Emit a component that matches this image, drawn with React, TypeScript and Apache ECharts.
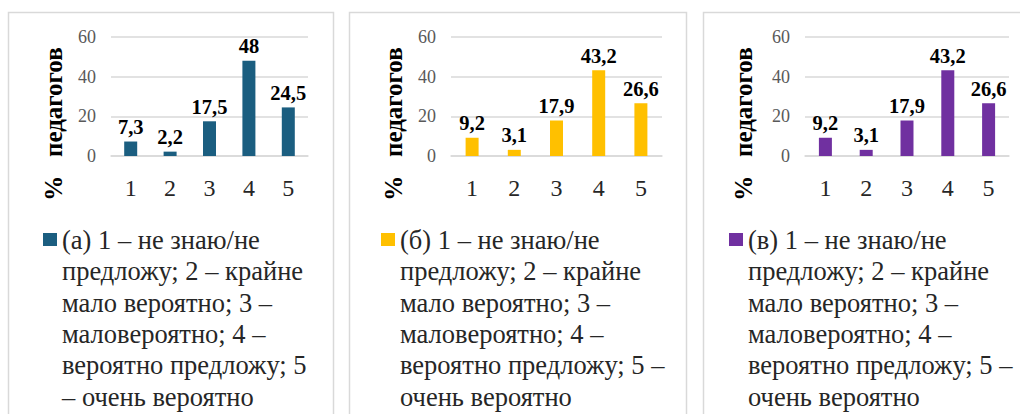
import React, { useEffect, useRef } from "react";
import * as echarts from "echarts";

const categories = ["1", "2", "3", "4", "5"];
const valuesA = [7.3, 2.2, 17.5, 48, 24.5];
const valuesB = [9.2, 3.1, 17.9, 43.2, 26.6];
const valuesC = [9.2, 3.1, 17.9, 43.2, 26.6];
const yTicks = { min: 0, max: 60, interval: 20 };
const axisTitle = "%   педагогов";
const legendA = [
  "(а) 1 – не знаю/не",
  "предложу; 2 – крайне",
  "мало вероятно; 3 –",
  "маловероятно; 4 –",
  "вероятно предложу; 5",
  "– очень вероятно",
];
const legendB = [
  "(б) 1 – не знаю/не",
  "предложу; 2 – крайне",
  "мало вероятно; 3 –",
  "маловероятно; 4 –",
  "вероятно предложу; 5 –",
  "очень вероятно",
];
const legendC = [
  "(в) 1 – не знаю/не",
  "предложу; 2 – крайне",
  "мало вероятно; 3 –",
  "маловероятно; 4 –",
  "вероятно предложу; 5 –",
  "очень вероятно",
];

const FONT = "Liberation Serif";
const colors = ["#1B5E80", "#FFC000", "#7030A0"];

const panels = [
  { gridLeft: 111, gridWidth: 197, titleX: 53, legendX: 43, border: [8.5, 325], values: valuesA, legend: legendA },
  { gridLeft: 451, gridWidth: 211, titleX: 393, legendX: 381, border: [349.5, 337], values: valuesB, legend: legendB },
  { gridLeft: 805, gridWidth: 204, titleX: 743, legendX: 729, border: [703.5, 340], values: valuesC, legend: legendC },
];

export default function App() {
  const ref = useRef<HTMLDivElement>(null);
  useEffect(() => {
    if (!ref.current) return;
    const chart = echarts.init(ref.current, null, { renderer: "svg" });
    const graphics: any[] = [];
    panels.forEach((p, i) => {
      graphics.push({
        type: "rect",
        shape: { x: p.border[0], y: 12.5, width: p.border[1], height: 430 },
        style: { fill: "#fff", stroke: "#D9D9D9", lineWidth: 1.5 },
        z: -10,
      });
      graphics.push({
        type: "text",
        x: p.titleX,
        y: 124,
        rotation: Math.PI / 2,
        style: {
          text: axisTitle,
          fontFamily: FONT,
          fontSize: 25,
          fontWeight: "bold",
          fill: "#000",
          align: "center",
          verticalAlign: "middle",
        },
      });
      graphics.push({
        type: "rect",
        shape: { x: p.legendX, y: 233, width: 14, height: 13 },
        style: { fill: colors[i] },
      });
      graphics.push({
        type: "text",
        x: p.legendX + 19,
        y: 224,
        style: {
          text: p.legend.join("\n"),
          fontFamily: FONT,
          fontSize: 26.5,
          lineHeight: 31.4,
          fill: "#262626",
          align: "left",
          verticalAlign: "top",
        },
      });
    });
    chart.setOption({
      animation: false,
      backgroundColor: "#fff",
      textStyle: { fontFamily: FONT },
      grid: panels.map((p) => ({ left: p.gridLeft, width: p.gridWidth, top: 37, height: 119 })),
      xAxis: panels.map((p, i) => ({
        type: "category",
        gridIndex: i,
        data: categories,
        axisLine: { lineStyle: { color: "#D9D9D9", width: 1.5 } },
        axisTick: { length: 8, lineStyle: { color: "#D9D9D9", width: 1.5 } },
        axisLabel: { fontFamily: FONT, fontSize: 24, color: "#262626", margin: 20 },
      })),
      yAxis: panels.map((p, i) => ({
        type: "value",
        gridIndex: i,
        min: yTicks.min,
        max: yTicks.max,
        interval: yTicks.interval,
        axisLine: { show: false },
        axisTick: { show: false },
        splitLine: { lineStyle: { color: "#D9D9D9", width: 1.5 } },
        axisLabel: { fontFamily: FONT, fontSize: 18, color: "#595959", margin: 15 },
      })),
      series: panels.map((p, i) => ({
        type: "bar",
        xAxisIndex: i,
        yAxisIndex: i,
        data: p.values,
        barWidth: 13,
        itemStyle: { color: colors[i] },
        label: {
          show: true,
          position: "top",
          distance: 4,
          fontFamily: FONT,
          fontWeight: "bold",
          fontSize: 20.5,
          color: "#000",
          formatter: (d: any) => String(d.value).replace(".", ","),
        },
      })),
      graphic: graphics,
    });
    return () => chart.dispose();
  }, []);
  return <div ref={ref} style={{ position: "absolute", left: 0, top: 0, width: 1020, height: 414 }} />;
}
